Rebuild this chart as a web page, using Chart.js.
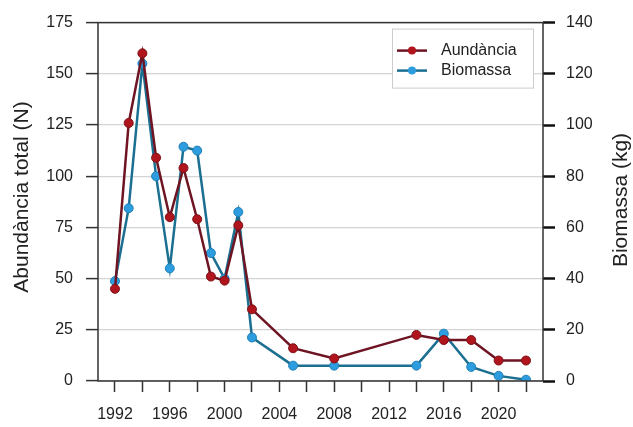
<!DOCTYPE html>
<html>
<head>
<meta charset="utf-8">
<script src="https://cdn.jsdelivr.net/npm/chart.js@4.4.1/dist/chart.umd.min.js"></script>
<style>
  html, body { margin: 0; padding: 0; background: #fff; }
  #wrap { width: 633px; height: 427px; }
</style>
</head>
<body>
<div id="wrap"><canvas id="chart" width="633" height="427"></canvas></div>
<script>
// years sampled
const years = [1992, 1993, 1994, 1995, 1996, 1997, 1998, 1999, 2000, 2001, 2002, 2005, 2008, 2014, 2016, 2018, 2020, 2022];
// abundance (N), left axis
const abundancia = [45, 126, 160, 109, 80, 104, 79, 51, 49, 76, 35, 16, 11, 22.5, 20, 20, 10, 10];
// biomass (kg), right axis
const biomassa = [39, 67.5, 124, 80, 44, 91.5, 90, 50, 40, 66, 17, 6, 6, 6, 18.5, 5.5, 2, 0.5];

const xTicks = [1992, 1994, 1996, 1998, 2000, 2002, 2004, 2006, 2008, 2010, 2012, 2014, 2016, 2018, 2020, 2022];
const xLabels = [1992, 1996, 2000, 2004, 2008, 2012, 2016, 2020];

const leftTitle = 'Abundància total (N)';
const rightTitle = 'Biomassa (kg)';

const FONT = 'Liberation Sans, Arial, sans-serif';
const TXT = '#222';

const toPoints = (vals) => vals.map((v, i) => ({ x: years[i], y: v }));

// frame round the plot, axis titles (both read bottom-to-top) + legend box
const framePlugin = {
    id: 'frame',
    afterDatasetsDraw(chart) {
        const { ctx, chartArea: a } = chart;
        ctx.save();
        ctx.strokeStyle = '#333';
        ctx.lineWidth = 1.5;
        ctx.strokeRect(a.left, a.top, a.right - a.left, a.bottom - a.top);

        // axis titles
        ctx.fillStyle = TXT;
        ctx.font = '21px ' + FONT;
        ctx.textAlign = 'center';
        ctx.textBaseline = 'middle';
        [[22, 197, leftTitle], [621, 200, rightTitle]].forEach(([x, y, t]) => {
            ctx.save();
            ctx.translate(x, y);
            ctx.rotate(-Math.PI / 2);
            ctx.fillText(t, 0, 0);
            ctx.restore();
        });

        // legend
        const bx = a.right - 151, by = a.top + 6, bw = 141, bh = 59;
        ctx.fillStyle = '#fff';
        ctx.fillRect(bx, by, bw, bh);
        ctx.strokeStyle = '#ccc';
        ctx.lineWidth = 1;
        ctx.strokeRect(bx + 0.5, by + 0.5, bw, bh);
        ctx.font = '16px ' + FONT;
        ctx.textAlign = 'left';
        ctx.textBaseline = 'middle';
        chart.data.datasets.forEach((ds, i) => {
            const y = by + 22 + i * 20;
            ctx.strokeStyle = ds.borderColor;
            ctx.lineWidth = 2.5;
            ctx.beginPath();
            ctx.moveTo(bx + 5, y);
            ctx.lineTo(bx + 35, y);
            ctx.stroke();
            ctx.beginPath();
            ctx.arc(bx + 20, y, 4, 0, Math.PI * 2);
            ctx.fillStyle = ds.pointBackgroundColor;
            ctx.fill();
            ctx.fillStyle = TXT;
            ctx.fillText(ds.label, bx + 49, y);
        });
        ctx.restore();
    }
};

new Chart(document.getElementById('chart'), {
    type: 'line',
    data: {
        datasets: [
            {
                label: 'Aundància',
                data: toPoints(abundancia),
                yAxisID: 'y',
                borderColor: '#6e1423',
                borderWidth: 2.5,
                pointBackgroundColor: '#b0141c',
                pointBorderColor: '#7d1218',
                pointBorderWidth: 1,
                pointRadius: 4.5,
                tension: 0
            },
            {
                label: 'Biomassa',
                data: toPoints(biomassa),
                yAxisID: 'y2',
                borderColor: '#1b6f90',
                borderWidth: 2.5,
                pointBackgroundColor: '#2d9de0',
                pointBorderColor: '#1f80b5',
                pointBorderWidth: 1,
                pointRadius: 4.5,
                tension: 0
            }
        ]
    },
    options: {
        responsive: false,
        animation: false,
        layout: { padding: { top: 19, left: 0, right: 0, bottom: 0 } },
        plugins: {
            legend: { display: false },
            tooltip: { enabled: false }
        },
        scales: {
            x: {
                type: 'linear',
                min: 1990.76,
                max: 2023.24,
                afterBuildTicks(scale) {
                    scale.ticks = xTicks.map(v => ({ value: v }));
                },
                afterFit(scale) { scale.height = 46; },
                grid: {
                    drawOnChartArea: false,
                    drawTicks: true,
                    tickLength: 11,
                    tickColor: '#333',
                    tickWidth: 1.5
                },
                border: { display: false },
                ticks: {
                    autoSkip: false,
                    maxRotation: 0,
                    padding: 13,
                    color: TXT,
                    font: { family: FONT, size: 16 },
                    callback: (v) => xLabels.includes(v) ? String(v) : ''
                }
            },
            y: {
                position: 'left',
                min: 0,
                max: 175,
                afterFit(scale) { scale.width = 98; },
                grid: {
                    color: '#d4d4d4',
                    lineWidth: 1.2,
                    tickLength: 12,
                    tickColor: '#333',
                    tickWidth: 1.5
                },
                border: { display: false },
                ticks: {
                    stepSize: 25,
                    padding: 13,
                    color: TXT,
                    font: { family: FONT, size: 16 }
                }
            },
            y2: {
                position: 'right',
                min: 0,
                max: 140,
                afterFit(scale) { scale.width = 90; },
                grid: {
                    drawOnChartArea: false,
                    tickLength: 12,
                    tickColor: '#111',
                    tickWidth: 2.5
                },
                border: { display: false },
                ticks: {
                    stepSize: 20,
                    padding: 11,
                    color: TXT,
                    font: { family: FONT, size: 16 }
                }
            }
        }
    },
    plugins: [framePlugin]
});
</script>
</body>
</html>
